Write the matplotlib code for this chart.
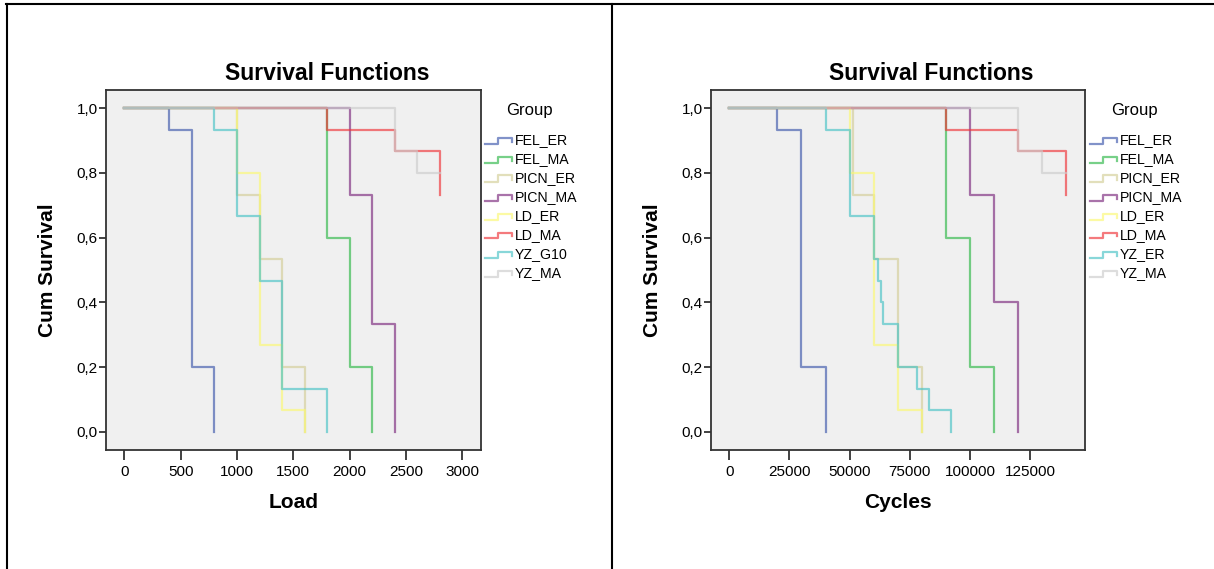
import numpy as np
import matplotlib
matplotlib.use('Agg')
import matplotlib.pyplot as plt
from matplotlib.lines import Line2D
from matplotlib.ticker import FuncFormatter

plt.rcParams['font.family'] = ['Liberation Sans', 'DejaVu Sans']

W, H = 1214, 569

groups_load = ['FEL_ER', 'FEL_MA', 'PICN_ER', 'PICN_MA', 'LD_ER', 'LD_MA', 'YZ_G10', 'YZ_MA']
groups_cycles = ['FEL_ER', 'FEL_MA', 'PICN_ER', 'PICN_MA', 'LD_ER', 'LD_MA', 'YZ_ER', 'YZ_MA']
colors = ['#3E58AC', '#2EB848', '#D3CE97', '#7C287D', '#FBF873', '#EF3338', '#48C2C5', '#CCCCCC']

# Load panel (time, cum survival)
fel_er_load_t = [0, 400, 600, 800]
fel_er_load_s = [1.0, 0.933, 0.2, 0.0]
fel_ma_load_t = [0, 1800, 2000, 2200]
fel_ma_load_s = [1.0, 0.6, 0.2, 0.0]
picn_er_load_t = [0, 1000, 1200, 1400, 1600]
picn_er_load_s = [1.0, 0.733, 0.533, 0.2, 0.0]
picn_ma_load_t = [0, 2000, 2200, 2400]
picn_ma_load_s = [1.0, 0.733, 0.333, 0.0]
ld_er_load_t = [0, 1000, 1200, 1400, 1600]
ld_er_load_s = [1.0, 0.8, 0.267, 0.067, 0.0]
ld_ma_load_t = [0, 1800, 2400, 2800]
ld_ma_load_s = [1.0, 0.933, 0.867, 0.733]
yz_g10_load_t = [0, 800, 1000, 1200, 1400, 1800]
yz_g10_load_s = [1.0, 0.933, 0.667, 0.467, 0.133, 0.0]
yz_ma_load_t = [0, 2400, 2600, 2800]
yz_ma_load_s = [1.0, 0.867, 0.8, 0.8]

# Cycles panel
fel_er_cyc_t = [0, 20000, 30000, 40000]
fel_er_cyc_s = [1.0, 0.933, 0.2, 0.0]
fel_ma_cyc_t = [0, 90000, 100000, 110000]
fel_ma_cyc_s = [1.0, 0.6, 0.2, 0.0]
picn_er_cyc_t = [0, 51500, 60000, 70000, 80000]
picn_er_cyc_s = [1.0, 0.733, 0.533, 0.2, 0.0]
picn_ma_cyc_t = [0, 100000, 110000, 120000]
picn_ma_cyc_s = [1.0, 0.733, 0.4, 0.0]
ld_er_cyc_t = [0, 50000, 60000, 70000, 80000]
ld_er_cyc_s = [1.0, 0.8, 0.267, 0.067, 0.0]
ld_ma_cyc_t = [0, 90000, 120000, 140000]
ld_ma_cyc_s = [1.0, 0.933, 0.867, 0.733]
yz_er_cyc_t = [0, 40000, 50000, 60000, 62000, 63000, 64000, 70000, 78000, 83000, 92000]
yz_er_cyc_s = [1.0, 0.933, 0.667, 0.533, 0.467, 0.4, 0.333, 0.2, 0.133, 0.067, 0.0]
yz_ma_cyc_t = [0, 120000, 130000, 140000]
yz_ma_cyc_s = [1.0, 0.867, 0.8, 0.8]

load_series = [(fel_er_load_t, fel_er_load_s), (fel_ma_load_t, fel_ma_load_s),
               (picn_er_load_t, picn_er_load_s), (picn_ma_load_t, picn_ma_load_s),
               (ld_er_load_t, ld_er_load_s), (ld_ma_load_t, ld_ma_load_s),
               (yz_g10_load_t, yz_g10_load_s), (yz_ma_load_t, yz_ma_load_s)]
cyc_series = [(fel_er_cyc_t, fel_er_cyc_s), (fel_ma_cyc_t, fel_ma_cyc_s),
              (picn_er_cyc_t, picn_er_cyc_s), (picn_ma_cyc_t, picn_ma_cyc_s),
              (ld_er_cyc_t, ld_er_cyc_s), (ld_ma_cyc_t, ld_ma_cyc_s),
              (yz_er_cyc_t, yz_er_cyc_s), (yz_ma_cyc_t, yz_ma_cyc_s)]


def fx(x):
    return x / W


def fy(y):
    return 1 - y / H


fig = plt.figure(figsize=(W / 100, H / 100), dpi=100)

# table borders
lw_b = 1.5
fig.add_artist(Line2D([fx(6), 1], [fy(4.3), fy(4.3)], transform=fig.transFigure, color='black', lw=lw_b))
fig.add_artist(Line2D([fx(6.7), fx(6.7)], [0, fy(4.3)], transform=fig.transFigure, color='black', lw=lw_b))
fig.add_artist(Line2D([fx(611.7), fx(611.7)], [0, fy(4.3)], transform=fig.transFigure, color='black', lw=lw_b))


def panel(left_px, right_px, series, groups, xlim, xticks, xlabel, title_x, ylab_x, leg_x, text_x):
    ax = fig.add_axes([fx(left_px), fy(450), fx(right_px - left_px), (450 - 90) / H])
    ax.set_facecolor('#F0F0F0')
    for (t, s), c in zip(series, colors):
        ax.step(t, s, where='post', color=c, lw=1.6, alpha=0.65)
    ax.set_xlim(xlim)
    ax.set_ylim(-0.056, 1.056)
    ax.set_xticks(xticks)
    ax.set_yticks([0, 0.2, 0.4, 0.6, 0.8, 1.0])
    ax.yaxis.set_major_formatter(FuncFormatter(lambda v, p: ('%.1f' % v).replace('.', ',')))
    ax.xaxis.set_major_formatter(FuncFormatter(lambda v, p: '%d' % v))
    for sp in ax.spines.values():
        sp.set_color('#333333')
        sp.set_linewidth(1.3)
    ax.tick_params(axis='x', length=7, width=1.3, color='#333333', labelsize=11, pad=4)
    ax.tick_params(axis='y', length=5, width=1.3, color='#333333', labelsize=11, pad=1)
    ax.set_xlabel(xlabel, fontsize=15, fontweight='bold', labelpad=10)
    fig.text(fx(ylab_x), fy(270), 'Cum Survival', rotation=90, fontsize=15, fontweight='bold',
             ha='center', va='center')
    fig.text(fx(title_x), fy(73), 'Survival Functions', fontsize=16.5, fontweight='bold',
             ha='center', va='center')

    # legend
    fig.text(fx(text_x - 8), fy(110.5), 'Group', fontsize=12, ha='left', va='center')
    for i, (g, c) in enumerate(zip(groups, colors)):
        y = 140.5 + i * 19.0
        hx = [leg_x, leg_x + 13, leg_x + 13, leg_x + 27, leg_x + 27]
        hy = [y + 3, y + 3, y - 3, y - 3, y + 1]
        fig.add_artist(Line2D([fx(v) for v in hx], [fy(v) for v in hy], transform=fig.transFigure,
                              color=c, lw=1.6, alpha=0.65))
        fig.text(fx(text_x), fy(y), g, fontsize=10.2, ha='left', va='center')
    return ax


panel(106, 481, load_series, groups_load, (-162, 3165), [0, 500, 1000, 1500, 2000, 2500, 3000],
      'Load', 327, 48, 485, 514.5)
panel(711, 1085, cyc_series, groups_cycles, (-7600, 147840),
      [0, 25000, 50000, 75000, 100000, 125000], 'Cycles', 931, 653, 1090, 1119.5)

fig.savefig('out.png', dpi=100)
